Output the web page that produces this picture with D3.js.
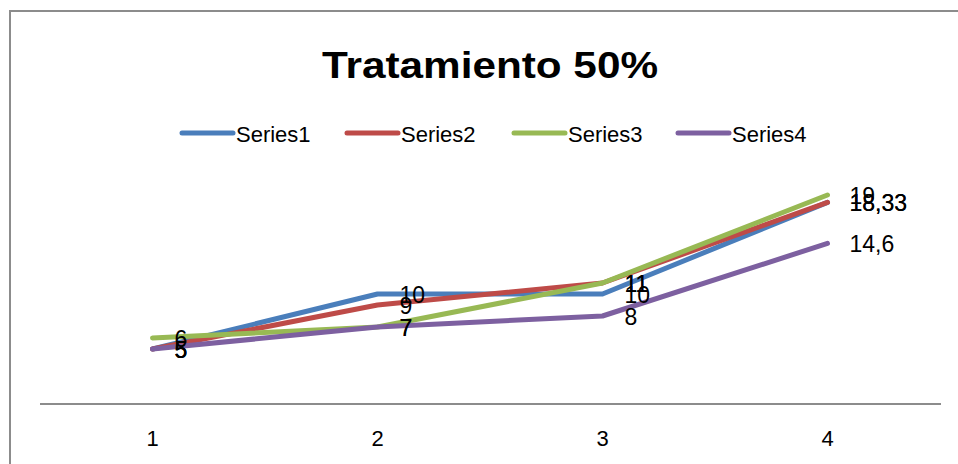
<!DOCTYPE html>
<html>
<head>
<meta charset="utf-8">
<script src="https://cdn.jsdelivr.net/npm/d3@7"></script>
<style>
  body { margin: 0; background: #fff; }
  text { font-family: "Liberation Sans", Arial, sans-serif; fill: #000; }
</style>
</head>
<body>
<div id="chart"></div>
<script>
const categories = ["1", "2", "3", "4"];
const seriesNames = ["Series1", "Series2", "Series3", "Series4"];
const series1 = [5, 10, 10, 18.33];
const series2 = [5, 9, 11, 18.33];
const series3 = [6, 7, 11, 19];
const series4 = [5, 7, 8, 14.6];
const colors = ["#4a7ebb", "#be4b48", "#98b954", "#7d60a0"];

const width = 958, height = 464;

const svg = d3.select("#chart").append("svg")
    .attr("width", width)
    .attr("height", height);

svg.append("rect")
    .attr("width", width).attr("height", height)
    .attr("fill", "#fff");

// chart border (only top and left are inside the frame)
svg.append("rect")
    .attr("x", 10).attr("y", 11)
    .attr("width", 1000).attr("height", 500)
    .attr("fill", "none")
    .attr("stroke", "#8c8c8c")
    .attr("stroke-width", 2);

const x = d3.scaleBand().domain(categories).range([40, 940]);
const y = d3.scaleLinear().domain([0, 25]).range([404, 129]);

// title
svg.append("text")
    .attr("x", 490).attr("y", 78)
    .attr("text-anchor", "middle")
    .attr("font-size", 36)
    .attr("font-weight", "bold")
    .attr("textLength", 336)
    .attr("lengthAdjust", "spacingAndGlyphs")
    .text("Tratamiento 50%");

// legend
const legendX = [180, 345, 512, 676];
const legend = svg.selectAll(".legend")
    .data(seriesNames)
    .enter().append("g")
    .attr("class", "legend")
    .attr("transform", (d, i) => `translate(${legendX[i]},133)`);

legend.append("line")
    .attr("x1", 2).attr("x2", 53)
    .attr("stroke", (d, i) => colors[i])
    .attr("stroke-width", 5)
    .attr("stroke-linecap", "round");

legend.append("text")
    .attr("x", 56).attr("y", 9)
    .attr("font-size", 22)
    .text(d => d);

// x axis
svg.append("line")
    .attr("x1", 40).attr("x2", 941)
    .attr("y1", 404).attr("y2", 404)
    .attr("stroke", "#8c8c8c")
    .attr("stroke-width", 2);

const xAxis = svg.append("g")
    .attr("transform", "translate(0,404)")
    .call(d3.axisBottom(x).tickSize(0).tickPadding(26));
xAxis.select(".domain").remove();
xAxis.selectAll("text")
    .attr("font-size", 22)
    .attr("font-family", "Liberation Sans, Arial, sans-serif")
    .attr("fill", "#000");

// lines
const allSeries = [series1, series2, series3, series4];
const line = d3.line()
    .x((d, i) => x(categories[i]) + x.bandwidth() / 2)
    .y(d => y(d));

svg.selectAll(".series")
    .data(allSeries)
    .enter().append("path")
    .attr("class", "series")
    .attr("d", line)
    .attr("fill", "none")
    .attr("stroke", (d, i) => colors[i])
    .attr("stroke-width", 5)
    .attr("stroke-linejoin", "round")
    .attr("stroke-linecap", "round");

// data labels
const fmt = v => String(v).replace(".", ",");
allSeries.forEach(values => {
  svg.selectAll(null)
      .data(values)
      .enter().append("text")
      .attr("x", (d, i) => x(categories[i]) + x.bandwidth() / 2 + 22)
      .attr("y", d => y(d) + 9)
      .attr("font-size", 23)
      .text(fmt);
});
</script>
</body>
</html>
